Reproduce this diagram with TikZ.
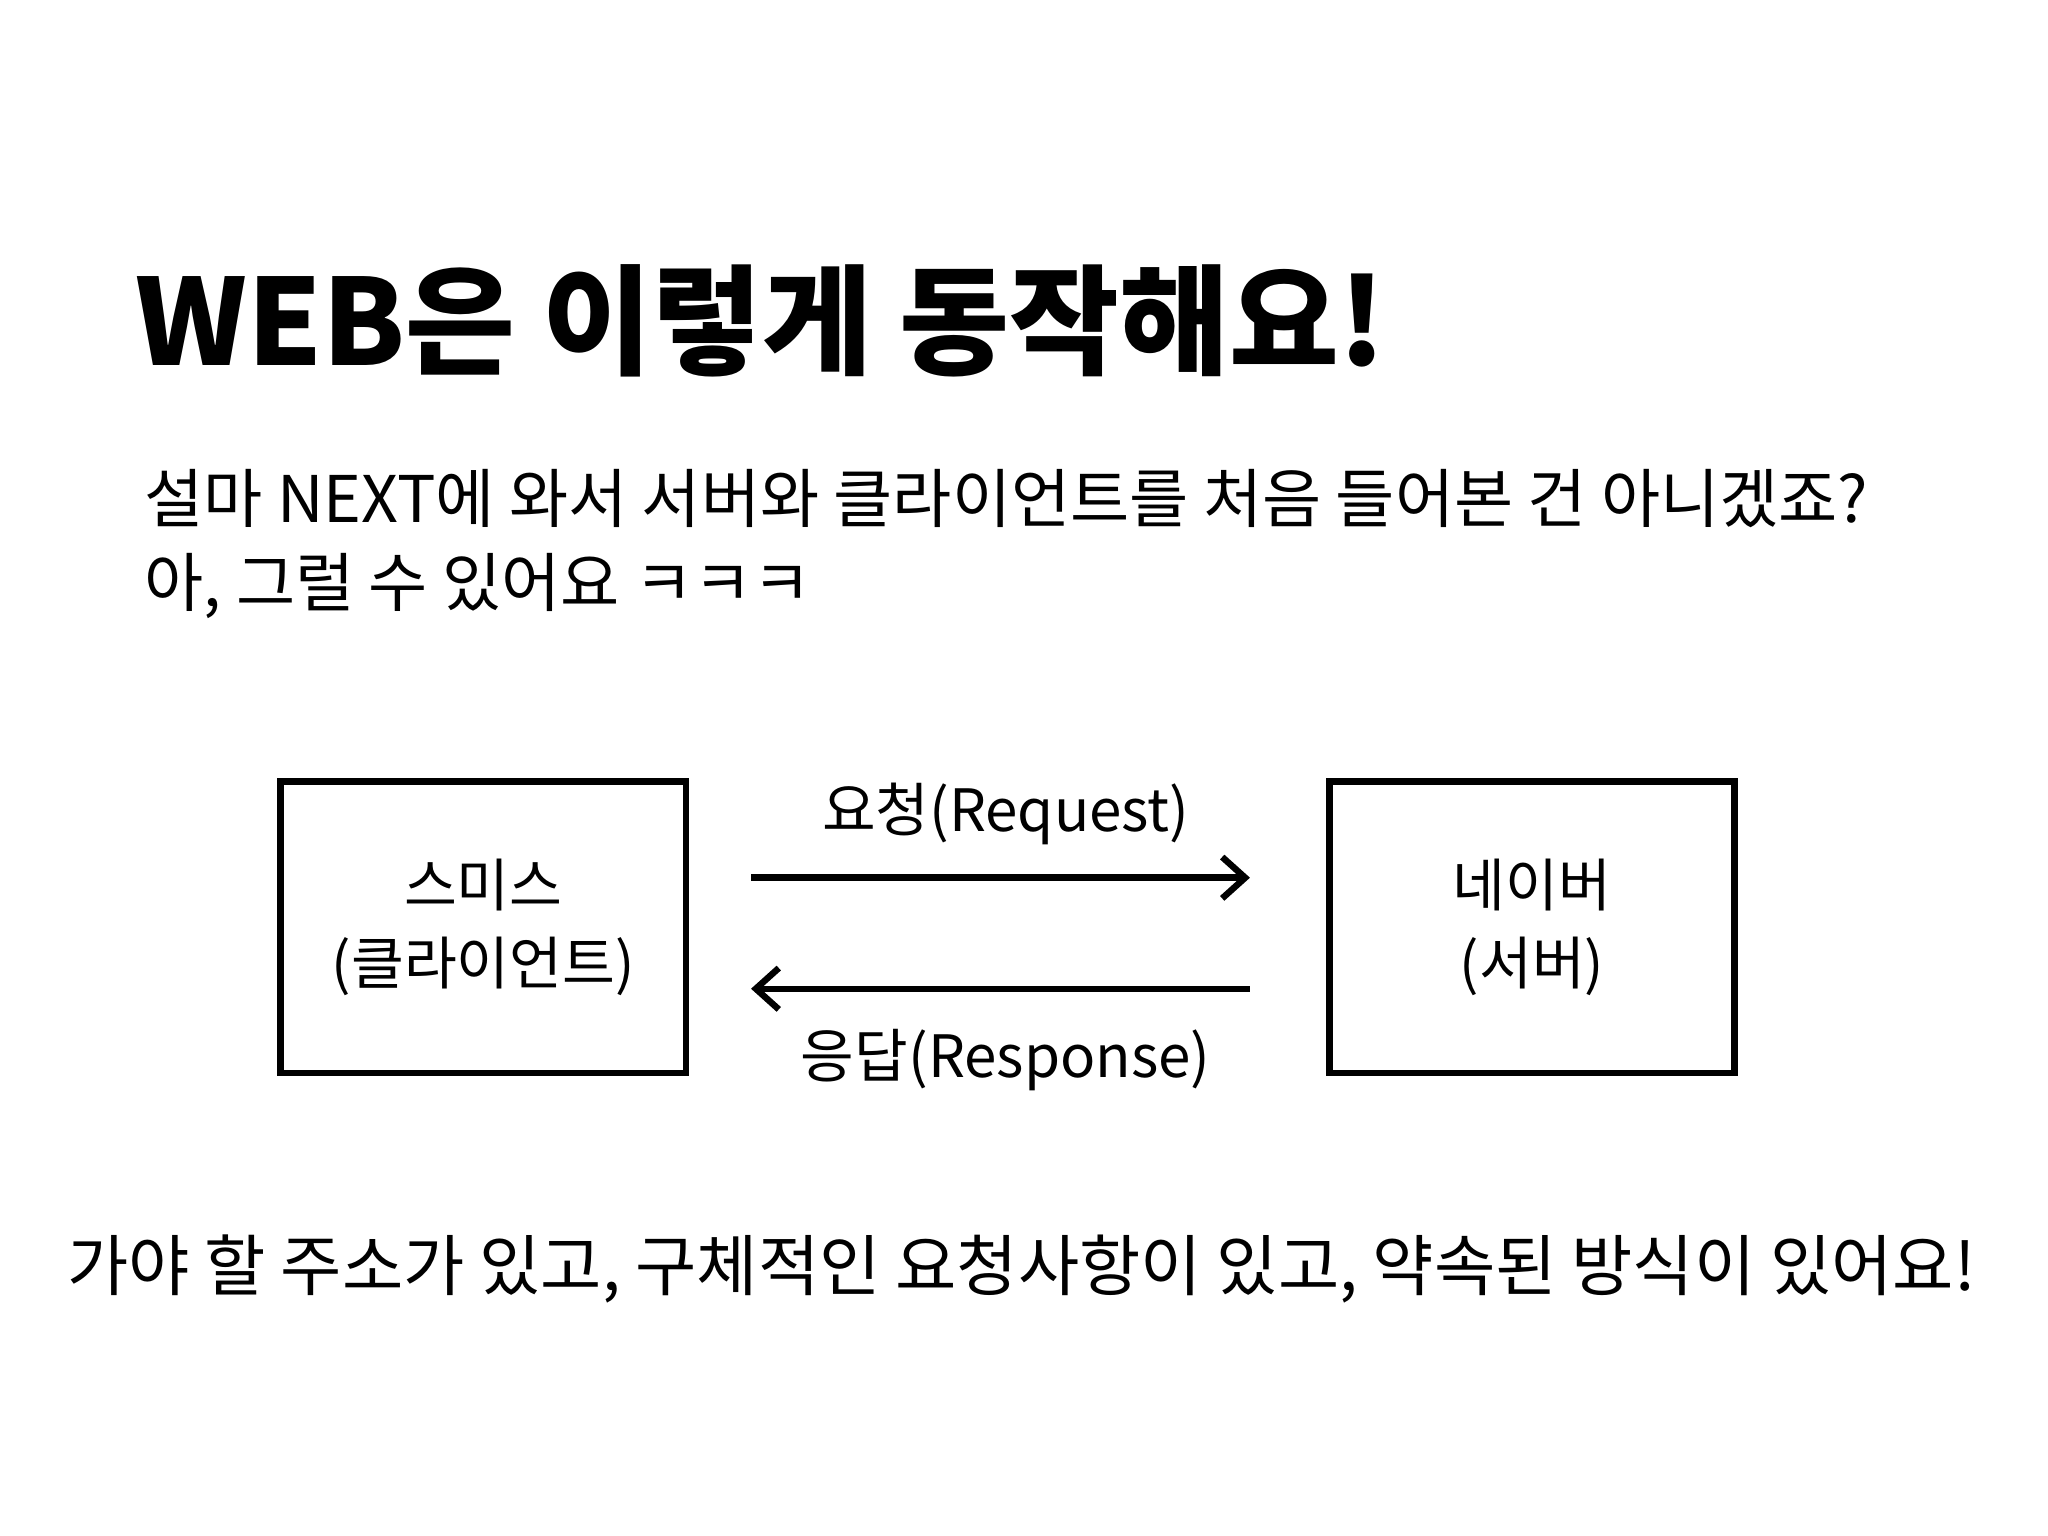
\documentclass[tikz,border=0pt]{standalone}
\usepackage{fontspec}
\setmainfont{Noto Sans CJK KR}
\usetikzlibrary{positioning,arrows.meta}
\tikzset{
  box/.style={draw, line width=1.4pt, minimum width=3.1cm, minimum height=2.23cm, align=center, font=\fontsize{12.5}{17}\selectfont},
  flow/.style={line width=1.4pt, -{Straight Barb[length=5pt,width=9pt]}},
  txt/.style={anchor=base west, font=\fontsize{14}{17}\selectfont, inner sep=0pt},
  lbl/.style={anchor=base, inner sep=0pt, font=\fontsize{12.7}{15}\selectfont}
}
\begin{document}
\begin{tikzpicture}[x=0.01cm, y=-0.01cm]
	\useasboundingbox (0,0) rectangle (1568,1176);

	\node [anchor=base west, inner sep=0pt, font=\fontsize{26}{30}\selectfont\bfseries] (title) at (103,280) {WEB은 이렇게 동작해요!};
	\node [txt] (line1) at (110,400) {설마 NEXT에 와서 서버와 클라이언트를 처음 들어본 건 아니겠죠?};
	\node [txt] (line2) at (110,464) {아, 그럴 수 있어요 ㅋㅋㅋ};

	\node [box] (client) at (370,710) {스미스\\(클라이언트)};
	\node [box] (server) at (1173,710) {네이버\\(서버)};

	\coordinate (reqA) at (575,672);
	\coordinate (reqB) at (957,672);
	\coordinate (resA) at (957,757);
	\coordinate (resB) at (575,757);
	\draw [flow] (reqA) -- (reqB);
	\draw [flow] (resA) -- (resB);
	\node [lbl] (req) at (770,637) {요청(Request)};
	\node [lbl] (res) at (770,825) {응답(Response)};

	\node [anchor=base, inner sep=0pt, font=\fontsize{14.5}{17}\selectfont] (bottom) at (782,988) {가야 할 주소가 있고, 구체적인 요청사항이 있고, 약속된 방식이 있어요!};
\end{tikzpicture}
\end{document}
